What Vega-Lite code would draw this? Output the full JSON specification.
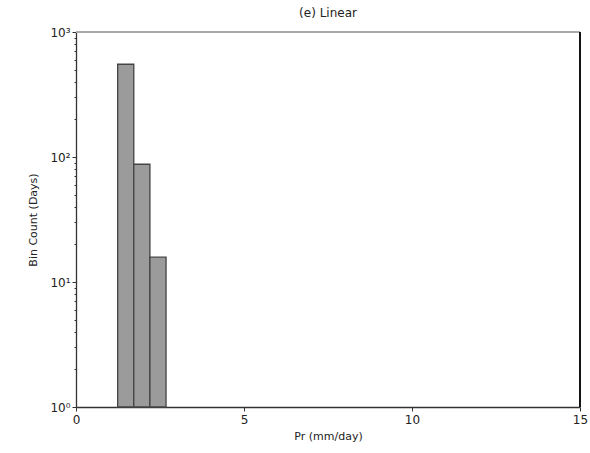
{
  "$schema": "https://vega.github.io/schema/vega-lite/v6.json",
  "autosize": "none",
  "width": 504,
  "height": 375,
  "padding": {"left": 76, "top": 32, "right": 10, "bottom": 46},
  "background": "white",
  "config": {
    "font": "DejaVu Sans",
    "view": {"stroke": null},
    "axis": {"labelFont": "DejaVu Sans", "titleFont": "DejaVu Sans", "labelFontSize": 12, "titleFontSize": 11, "titleFontWeight": "normal", "labelColor": "#222", "titleColor": "#222", "grid": false, "domainColor": "#333", "tickColor": "#333", "labelFlush": false}
  },
  "title": {"text": "(e) Linear", "fontSize": 12, "fontWeight": "normal", "font": "DejaVu Sans", "color": "#222", "offset": 6},
  "data": {"values": [
    {"bin_start": 1.24, "bin_end": 1.72, "count": 552},
    {"bin_start": 1.72, "bin_end": 2.20, "count": 87.5},
    {"bin_start": 2.20, "bin_end": 2.68, "count": 15.8}
  ]},
  "layer": [
    {
      "mark": {"type": "rule", "color": "#aaaaaa", "strokeWidth": 2},
      "encoding": {
        "y": {"datum": 1000, "type": "quantitative", "scale": {"type": "log", "domain": [1, 1000]}},
        "x": {"datum": 0, "type": "quantitative", "scale": {"domain": [0, 15], "nice": false}},
        "x2": {"datum": 15}
      }
    },
    {
      "mark": {"type": "rule", "color": "#111111", "strokeWidth": 1.5},
      "encoding": {
        "x": {"datum": 15, "type": "quantitative", "scale": {"domain": [0, 15], "nice": false}},
        "y": {"datum": 1, "type": "quantitative", "scale": {"type": "log", "domain": [1, 1000]}},
        "y2": {"datum": 1000}
      }
    },
    {
      "mark": {"type": "bar", "fill": "#9b9b9b", "stroke": "#444444", "strokeWidth": 1.3},
      "encoding": {
        "x": {"field": "bin_start", "type": "quantitative", "scale": {"domain": [0, 15], "nice": false}, "axis": {"values": [0, 5, 10, 15], "title": "Pr (mm/day)", "tickSize": 4, "labelPadding": 3, "titlePadding": 5, "domainWidth": 1.3}},
        "x2": {"field": "bin_end"},
        "y": {"field": "count", "type": "quantitative", "scale": {"type": "log", "domain": [1, 1000]}, "axis": {"values": [1,2,3,4,5,6,7,8,9,10,20,30,40,50,60,70,80,90,100,200,300,400,500,600,700,800,900,1000], "labelExpr": "datum.value == 1 ? '10⁰' : datum.value == 10 ? '10¹' : datum.value == 100 ? '10²' : datum.value == 1000 ? '10³' : ''", "tickSize": {"condition": {"test": "indexof([1,10,100,1000], datum.value) >= 0", "value": 4}, "value": 2}, "title": "Bin Count (Days)", "titlePadding": 11, "domainWidth": 1.3}},
        "y2": {"datum": 1}
      }
    }
  ]
}
